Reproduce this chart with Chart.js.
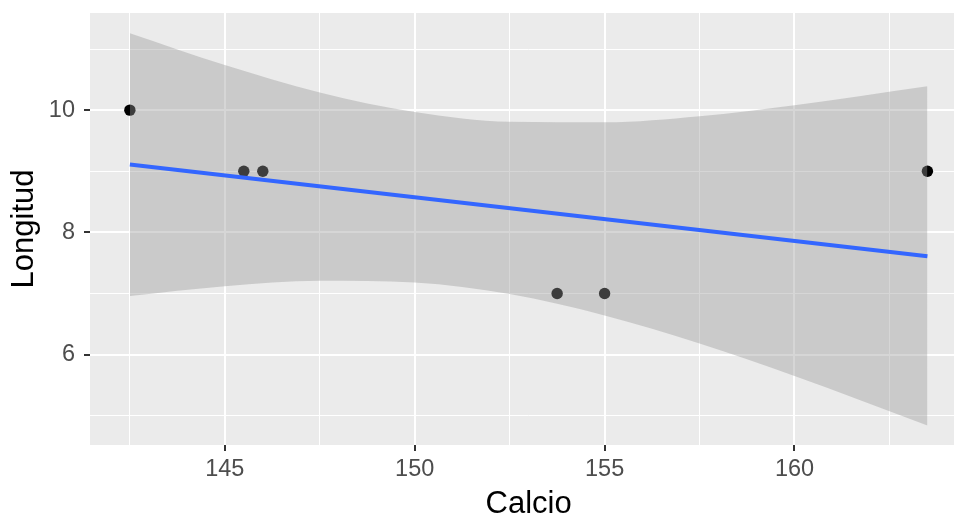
<!DOCTYPE html>
<html>
<head>
<meta charset="utf-8">
<script src="https://cdn.jsdelivr.net/npm/chart.js@4.4.0/dist/chart.umd.min.js"></script>
<style>
  html, body { margin: 0; padding: 0; background: #fff; }
  #wrap { width: 954px; height: 517px; overflow: hidden; position: relative; }
  canvas { display: block; }
</style>
</head>
<body>
<div id="wrap"><canvas id="chart" width="973" height="520" style="width:973px;height:520px"></canvas></div>
<script>
// observed points
const calcio = [142.5, 145.5, 146, 153.75, 155, 163.5];
const longitud = [10, 9, 9, 7, 7, 9];

// fitted line
const fitX = [142.5, 163.5];
const fitY = [9.11, 7.61];

// confidence band
const bandX = [142.5, 145, 147.5, 150, 152.5, 155, 157.5, 160, 163.5];
const bandUpper = [11.26, 10.74, 10.29, 9.97, 9.81, 9.80, 9.90, 10.08, 10.39];
const bandLower = [6.96, 7.12, 7.21, 7.18, 6.99, 6.64, 6.18, 5.65, 4.84];

// ticks (major ones get labels)
const xTicks = [142.5, 145, 147.5, 150, 152.5, 155, 157.5, 160, 162.5];
const xMajor = [145, 150, 155, 160];
const yTicks = [5, 6, 7, 8, 9, 10, 11];
const yMajor = [6, 8, 10];

const pts = (xs, ys) => xs.map((x, i) => ({ x: x, y: ys[i] }));

// grey panel behind the plot
const panelBg = {
  id: "panelBg",
  beforeDraw(chart) {
    const { ctx, chartArea: a } = chart;
    ctx.save();
    ctx.fillStyle = "#EBEBEB";
    ctx.fillRect(a.left, a.top, a.right - a.left, a.bottom - a.top);
    ctx.restore();
  }
};

const gridStyle = (majors) => ({
  color: "#FFFFFF",
  lineWidth: c => (c.tick && majors.includes(c.tick.value) ? 2 : 1),
  tickColor: c => (c.tick && majors.includes(c.tick.value) ? "#333333" : "rgba(0,0,0,0)"),
  tickWidth: 2,
  tickLength: 6
});

// keep the plot area where ggplot put it
const noEdgePad = s => {
  s.paddingTop = 0;
  s.paddingBottom = 0;
  s.paddingLeft = 0;
  s.paddingRight = 0;
};

new Chart(document.getElementById("chart"), {
  type: "scatter",
  data: {
    datasets: [
      {
        label: "puntos",
        data: pts(calcio, longitud),
        backgroundColor: "#000000",
        borderWidth: 0,
        pointRadius: 5.7,
        order: 3
      },
      {
        label: "sup",
        data: pts(bandX, bandUpper),
        showLine: true,
        borderWidth: 0,
        borderColor: "rgba(0,0,0,0)",
        pointRadius: 0,
        cubicInterpolationMode: "monotone",
        backgroundColor: "rgba(153,153,153,0.4)",
        fill: "+1",
        order: 2
      },
      {
        label: "inf",
        data: pts(bandX, bandLower),
        showLine: true,
        borderWidth: 0,
        borderColor: "rgba(0,0,0,0)",
        pointRadius: 0,
        cubicInterpolationMode: "monotone",
        fill: false,
        order: 2
      },
      {
        label: "ajuste",
        data: pts(fitX, fitY),
        showLine: true,
        borderColor: "#3366FF",
        borderWidth: 4,
        pointRadius: 0,
        fill: false,
        order: 1
      }
    ]
  },
  options: {
    responsive: false,
    animation: false,
    devicePixelRatio: 1,
    events: [],
    layout: { padding: { left: 0, top: 13, right: 1, bottom: 0 } },
    plugins: {
      legend: { display: false },
      tooltip: { enabled: false }
    },
    scales: {
      x: {
        type: "linear",
        min: 141.45,
        max: 164.55,
        afterBuildTicks: s => { s.ticks = xTicks.map(v => ({ value: v })); },
        afterFit: s => { s.height = 75; noEdgePad(s); },
        border: { display: false },
        grid: gridStyle(xMajor),
        ticks: {
          autoSkip: false,
          maxRotation: 0,
          padding: 4,
          color: "#4D4D4D",
          font: { family: "Liberation Sans, Arial, sans-serif", size: 23.5 },
          callback: v => (xMajor.includes(v) ? String(v) : "")
        },
        title: {
          display: true,
          text: "Calcio",
          color: "#000000",
          padding: { top: 0, bottom: 0 },
          font: { family: "Liberation Sans, Arial, sans-serif", size: 31, lineHeight: 1 }
        }
      },
      y: {
        type: "linear",
        min: 4.52,
        max: 11.59,
        afterBuildTicks: s => { s.ticks = yTicks.map(v => ({ value: v })); },
        afterFit: s => { s.width = 90; noEdgePad(s); },
        border: { display: false },
        grid: gridStyle(yMajor),
        ticks: {
          autoSkip: false,
          padding: 9,
          color: "#4D4D4D",
          font: { family: "Liberation Sans, Arial, sans-serif", size: 23.5 },
          callback: v => (yMajor.includes(v) ? String(v) : "")
        },
        title: {
          display: true,
          text: "Longitud",
          color: "#000000",
          padding: { top: 9, bottom: 0 },
          font: { family: "Liberation Sans, Arial, sans-serif", size: 31, lineHeight: 1 }
        }
      }
    }
  },
  plugins: [panelBg]
});
</script>
</body>
</html>
